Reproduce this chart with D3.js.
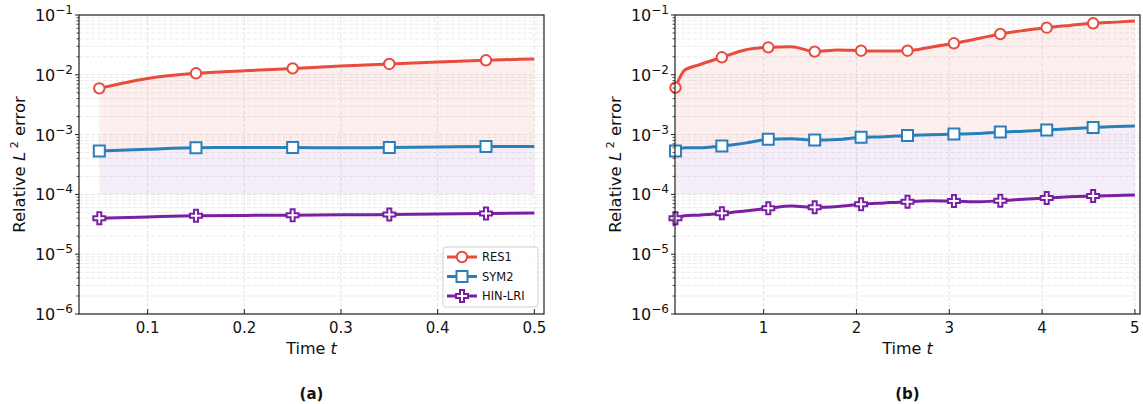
<!DOCTYPE html>
<html>
<head>
<meta charset="utf-8">
<script src="https://cdn.jsdelivr.net/npm/d3@7"></script>
<style>
  body { margin: 0; background: #fff; }
  text { font-family: "DejaVu Sans", sans-serif; fill: #111; }
</style>
</head>
<body>
<div id="graphic"></div>
<script>
// ---- data ----
var seriesNames = ["RES1", "SYM2", "HIN-LRI"];

// panel (a)
var tA = [0.05, 0.1, 0.15, 0.2, 0.25, 0.3, 0.35, 0.4, 0.45, 0.5];
var markA = [0.05, 0.15, 0.25, 0.35, 0.45];
var res1A = [5.94e-3, 8.7e-3, 1.06e-2, 1.17e-2, 1.28e-2, 1.4e-2, 1.52e-2, 1.64e-2, 1.75e-2, 1.84e-2];
var sym2A = [5.32e-4, 5.7e-4, 6.04e-4, 6.08e-4, 6.1e-4, 6.0e-4, 6.1e-4, 6.2e-4, 6.3e-4, 6.3e-4];
var hinA = [3.98e-5, 4.2e-5, 4.4e-5, 4.45e-5, 4.5e-5, 4.55e-5, 4.6e-5, 4.7e-5, 4.8e-5, 4.9e-5];
var xTicksA = [0.1, 0.2, 0.3, 0.4, 0.5];

// panel (b)
var tB = [0.05, 0.15, 0.3, 0.55, 0.8, 1.05, 1.3, 1.55, 1.8, 2.05, 2.3, 2.55, 2.8, 3.05, 3.3, 3.55, 3.8, 4.05, 4.3, 4.55, 4.8, 5.0];
var markB = [0.05, 0.55, 1.05, 1.55, 2.05, 2.55, 3.05, 3.55, 4.05, 4.55];
var res1B = [6.1e-3, 1.2e-2, 1.46e-2, 1.96e-2, 2.6e-2, 2.88e-2, 2.95e-2, 2.44e-2, 2.6e-2, 2.53e-2, 2.5e-2, 2.53e-2, 2.9e-2, 3.36e-2, 4.0e-2, 4.81e-2, 5.5e-2, 6.14e-2, 6.7e-2, 7.26e-2, 7.6e-2, 7.94e-2];
var sym2B = [5.32e-4, 6.0e-4, 6.0e-4, 6.44e-4, 7.2e-4, 8.34e-4, 8.5e-4, 8.1e-4, 8.3e-4, 9.0e-4, 9.2e-4, 9.7e-4, 9.9e-4, 1.02e-3, 1.04e-3, 1.10e-3, 1.14e-3, 1.19e-3, 1.25e-3, 1.32e-3, 1.36e-3, 1.39e-3];
var hinB = [3.98e-5, 4.4e-5, 4.5e-5, 4.83e-5, 5.3e-5, 5.85e-5, 6.4e-5, 6.08e-5, 6.3e-5, 6.82e-5, 7.2e-5, 7.57e-5, 7.8e-5, 7.77e-5, 7.5e-5, 7.85e-5, 8.3e-5, 8.71e-5, 9.1e-5, 9.4e-5, 9.6e-5, 9.8e-5];
var xTicksB = [1, 2, 3, 4, 5];

var yExps = [-1, -2, -3, -4, -5, -6];

var colors = ["#e74c3c", "#2a7fb8", "#7b1fa2"];

var svg = d3.select("#graphic").append("svg")
    .attr("width", 1143)
    .attr("height", 404);

function drawPanel(cfg) {
    var top = 15, bottom = 314;
    var x = d3.scaleLinear().domain(cfg.xDomain).range([cfg.left, cfg.right]);
    var y = d3.scaleLog().domain([1e-6, 1e-1]).range([bottom, top]);
    var g = svg.append("g");

    // grid: minor horizontal
    var minors = [];
    for (var e = -6; e < -1; e++) {
        for (var m = 2; m <= 9; m++) minors.push(m * Math.pow(10, e));
    }
    g.selectAll(null).data(minors).enter().append("line")
        .attr("x1", cfg.left).attr("x2", cfg.right)
        .attr("y1", function(d) { return y(d); }).attr("y2", function(d) { return y(d); })
        .attr("stroke", "#e4e4e4").attr("stroke-width", 0.8)
        .attr("stroke-dasharray", "4,2");
    g.selectAll(null).data(yExps).enter().append("line")
        .attr("x1", cfg.left).attr("x2", cfg.right)
        .attr("y1", function(d) { return y(Math.pow(10, d)); }).attr("y2", function(d) { return y(Math.pow(10, d)); })
        .attr("stroke", "#dedede").attr("stroke-width", 0.8)
        .attr("stroke-dasharray", "4,2");
    g.selectAll(null).data(cfg.xTicks).enter().append("line")
        .attr("x1", function(d) { return x(d); }).attr("x2", function(d) { return x(d); })
        .attr("y1", top).attr("y2", bottom)
        .attr("stroke", "#e2e2e2").attr("stroke-width", 0.9)
        .attr("stroke-dasharray", "4,2");

    var rows = cfg.t.map(function(t, i) {
        return { t: t, res: cfg.res[i], sym: cfg.sym[i], hin: cfg.hin[i] };
    });

    // bands
    g.append("path").datum(rows)
        .attr("fill", "#e74c3c").attr("fill-opacity", 0.09)
        .attr("d", d3.area().curve(d3.curveMonotoneX)
            .x(function(d) { return x(d.t); })
            .y0(function(d) { return y(d.sym); })
            .y1(function(d) { return y(d.res); }));
    g.append("path").datum(rows)
        .attr("fill", "#8e44ad").attr("fill-opacity", 0.09)
        .attr("d", d3.area().curve(d3.curveMonotoneX)
            .x(function(d) { return x(d.t); })
            .y0(function() { return y(1e-4); })
            .y1(function(d) { return y(d.sym); }));

    var keys = ["res", "sym", "hin"];
    keys.forEach(function(k, i) {
        g.append("path").datum(rows)
            .attr("fill", "none")
            .attr("stroke", colors[i])
            .attr("stroke-width", 3)
            .attr("d", d3.line().curve(d3.curveMonotoneX)
                .x(function(d) { return x(d.t); })
                .y(function(d) { return y(d[k]); }));
        var pts = rows.filter(function(d) {
            return cfg.marks.some(function(m) { return Math.abs(m - d.t) < 1e-9; });
        });
        g.selectAll(null).data(pts).enter().append("path")
            .attr("transform", function(d) { return "translate(" + x(d.t) + "," + y(d[k]) + ")"; })
            .attr("d", markerPath(i))
            .attr("fill", "#fff")
            .attr("stroke", colors[i])
            .attr("stroke-width", 2);
    });

    // frame
    g.append("rect")
        .attr("x", cfg.left).attr("y", top)
        .attr("width", cfg.right - cfg.left).attr("height", bottom - top)
        .attr("fill", "none").attr("stroke", "#222").attr("stroke-width", 1.2);

    // x axis ticks (inward)
    g.selectAll(null).data(cfg.xTicks).enter().append("line")
        .attr("x1", function(d) { return x(d); }).attr("x2", function(d) { return x(d); })
        .attr("y1", bottom).attr("y2", bottom - 5)
        .attr("stroke", "#222").attr("stroke-width", 1);
    g.selectAll(null).data(cfg.xTicks).enter().append("text")
        .attr("x", function(d) { return x(d); })
        .attr("y", bottom + 19)
        .attr("text-anchor", "middle")
        .style("font-size", "15px")
        .text(function(d) { return d; });

    // y axis ticks
    g.selectAll(null).data(minors).enter().append("line")
        .attr("x1", cfg.left - 2.5).attr("x2", cfg.left)
        .attr("y1", function(d) { return y(d); }).attr("y2", function(d) { return y(d); })
        .attr("stroke", "#222").attr("stroke-width", 0.8);
    g.selectAll(null).data(yExps).enter().append("line")
        .attr("x1", cfg.left - 4).attr("x2", cfg.left)
        .attr("y1", function(d) { return y(Math.pow(10, d)); }).attr("y2", function(d) { return y(Math.pow(10, d)); })
        .attr("stroke", "#222").attr("stroke-width", 1);
    var yl = g.selectAll(null).data(yExps).enter().append("text")
        .attr("x", cfg.left - 6)
        .attr("y", function(d) { return y(Math.pow(10, d)) + 6; })
        .attr("text-anchor", "end")
        .style("font-size", "16px");
    yl.append("tspan").text("10");
    yl.append("tspan").attr("dy", -7).style("font-size", "12px")
        .text(function(d) { return "\u2212" + (-d); });

    // axis titles
    var cx = (cfg.left + cfg.right) / 2;
    var xt = g.append("text").attr("x", cx).attr("y", 354)
        .attr("text-anchor", "middle").style("font-size", "16px");
    xt.append("tspan").text("Time ");
    xt.append("tspan").style("font-style", "italic").text("t");

    var yt = g.append("text")
        .attr("transform", "translate(" + cfg.ylabX + "," + ((top + bottom) / 2) + ") rotate(-90)")
        .attr("text-anchor", "middle").style("font-size", "16.5px");
    yt.append("tspan").text("Relative ");
    yt.append("tspan").style("font-style", "italic").text("L");
    yt.append("tspan").attr("dy", -7).style("font-size", "11px").text(" 2");
    yt.append("tspan").attr("dy", 7).text(" error");

    g.append("text").attr("x", cx).attr("y", 399)
        .attr("text-anchor", "middle")
        .style("font-size", "15px").style("font-weight", "bold")
        .text(cfg.tag);

    return { x: x, y: y, g: g };
}

function markerPath(i) {
    if (i === 0) return d3.symbol().type(d3.symbolCircle).size(85)();
    if (i === 1) return "M-5.5,-5.5H5.5V5.5H-5.5Z";
    var a = 2, b = 6;
    return "M" + -a + "," + -b + "H" + a + "V" + -a + "H" + b + "V" + a + "H" + a + "V" + b +
        "H" + -a + "V" + a + "H" + -b + "V" + -a + "H" + -a + "Z";
}

drawPanel({ left: 79, right: 544, xDomain: [0.029, 0.51], xTicks: xTicksA,
    t: tA, marks: markA, res: res1A, sym: sym2A, hin: hinA, ylabX: 25, tag: "(a)" });
drawPanel({ left: 675, right: 1140, xDomain: [0.045, 5.055], xTicks: xTicksB,
    t: tB, marks: markB, res: res1B, sym: sym2B, hin: hinB, ylabX: 621, tag: "(b)" });

// legend in panel (a)
var lg = svg.append("g").attr("transform", "translate(443,247)");
lg.append("rect").attr("width", 95).attr("height", 60).attr("rx", 3)
    .attr("fill", "#fff").attr("fill-opacity", 0.85)
    .attr("stroke", "#d0d0d0").attr("stroke-width", 1);
seriesNames.forEach(function(name, i) {
    var yy = 10 + i * 19.5;
    lg.append("line").attr("x1", 4).attr("x2", 34).attr("y1", yy).attr("y2", yy)
        .attr("stroke", colors[i]).attr("stroke-width", 3);
    lg.append("path").attr("transform", "translate(19," + yy + ")")
        .attr("d", markerPath(i)).attr("fill", "#fff")
        .attr("stroke", colors[i]).attr("stroke-width", 2);
    lg.append("text").attr("x", 39).attr("y", yy + 4)
        .style("font-size", "11.5px").text(name);
});
</script>
</body>
</html>
